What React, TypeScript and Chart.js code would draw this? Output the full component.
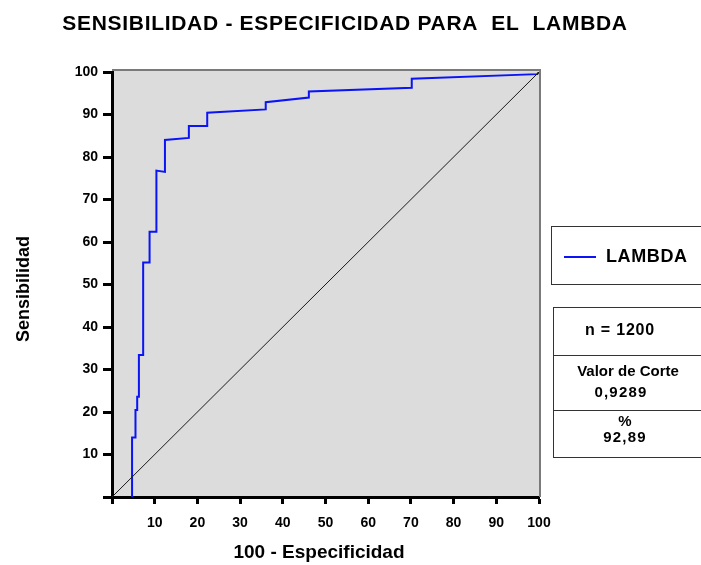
import { useEffect, useRef } from 'react';
import { Chart, registerables } from 'chart.js';

Chart.register(...registerables);

// ROC curve (100 - specificity, sensitivity)
const rocFpr = [4.7, 4.7, 5.5, 5.5, 5.9, 5.9, 6.3, 6.3, 7.3, 7.3, 8.8, 8.8, 10.4, 10.4, 12.4, 12.4, 18, 18, 22.3, 22.3, 36, 36, 46.1, 46.1, 70.2, 70.2, 99.6, 100];
const rocSens = [0, 14, 14, 20.5, 20.5, 23.6, 23.6, 33.4, 33.4, 55.2, 55.2, 62.4, 62.4, 76.8, 76.5, 84, 84.5, 87.3, 87.3, 90.4, 91.2, 92.9, 94, 95.4, 96.3, 98.4, 99.5, 100];
// reference diagonal
const diagX = [0, 100];
const diagY = [0, 100];

const tickStep = 10;
const axisMin = 0;
const axisMax = 100;

const chartTitle = 'SENSIBILIDAD - ESPECIFICIDAD PARA  EL  LAMBDA';
const xTitle = '100 - Especificidad';
const yTitle = 'Sensibilidad';
const seriesName = 'LAMBDA';
const statsN = 'n = 1200';
const statsCutLabel = 'Valor de Corte';
const statsCutValue = '0,9289';
const statsPctLabel = '%';
const statsPctValue = '92,89';

const FONT = 'Arial, "Liberation Sans", sans-serif';
const BLUE = '#0a14f5';

export default function App() {
  const ref = useRef<HTMLCanvasElement | null>(null);

  useEffect(() => {
    const canvas = ref.current;
    if (!canvas) return;

    const decor = {
      id: 'decor',
      beforeDraw(chart: any) {
        const { ctx, chartArea: a } = chart;
        ctx.save();
        ctx.fillStyle = '#ffffff';
        ctx.fillRect(0, 0, chart.width, chart.height);
        ctx.fillStyle = '#dcdcdc';
        ctx.fillRect(a.left, a.top - 2, a.right - a.left, a.bottom - a.top + 2);
        ctx.restore();
      },
      beforeDatasetsDraw(chart: any) {
        const { ctx, chartArea: a } = chart;
        ctx.save();
        ctx.strokeStyle = '#7a7a7a';
        ctx.lineWidth = 2;
        ctx.beginPath();
        ctx.moveTo(a.left, a.top - 2);
        ctx.lineTo(a.right + 1, a.top - 2);
        ctx.lineTo(a.right + 1, a.bottom);
        ctx.stroke();
        ctx.restore();
      },
      afterDraw(chart: any) {
        const { ctx } = chart;
        ctx.save();
        ctx.fillStyle = '#000';
        ctx.textAlign = 'center';
        ctx.textBaseline = 'middle';

        // title
        ctx.font = `bold 21px ${FONT}`;
        (ctx as any).letterSpacing = '0.7px';
        ctx.fillText(chartTitle, 345, 24);
        (ctx as any).letterSpacing = '0px';

        // x title
        ctx.font = `bold 19px ${FONT}`;
        ctx.fillText(xTitle, 319, 553);

        // y title
        ctx.save();
        ctx.translate(24, 289);
        ctx.rotate(-Math.PI / 2);
        ctx.font = `bold 18px ${FONT}`;
        ctx.fillText(yTitle, 0, 0);
        ctx.restore();

        // legend box
        ctx.strokeStyle = '#333';
        ctx.lineWidth = 1;
        ctx.strokeRect(551.5, 226.5, 160, 58);
        ctx.strokeStyle = BLUE;
        ctx.lineWidth = 2;
        ctx.beginPath();
        ctx.moveTo(564, 257);
        ctx.lineTo(596, 257);
        ctx.stroke();
        ctx.textAlign = 'left';
        ctx.font = `bold 18px ${FONT}`;
        (ctx as any).letterSpacing = '0.6px';
        ctx.fillText(seriesName, 606, 257);
        (ctx as any).letterSpacing = '0px';

        // stats box
        ctx.strokeStyle = '#333';
        ctx.lineWidth = 1;
        ctx.strokeRect(553.5, 307.5, 160, 150);
        ctx.beginPath();
        ctx.moveTo(553.5, 355.5);
        ctx.lineTo(701, 355.5);
        ctx.moveTo(553.5, 410.5);
        ctx.lineTo(701, 410.5);
        ctx.stroke();

        ctx.textAlign = 'center';
        ctx.font = `bold 16px ${FONT}`;
        (ctx as any).letterSpacing = '0.8px';
        ctx.fillText(statsN, 620, 331);
        ctx.font = `bold 15px ${FONT}`;
        (ctx as any).letterSpacing = '0px';
        ctx.fillText(statsCutLabel, 628, 372);
        (ctx as any).letterSpacing = '1.2px';
        ctx.fillText(statsCutValue, 621, 393);
        (ctx as any).letterSpacing = '0px';
        ctx.fillText(statsPctLabel, 625, 422);
        (ctx as any).letterSpacing = '1.2px';
        ctx.fillText(statsPctValue, 625, 438);
        (ctx as any).letterSpacing = '0px';
        ctx.restore();
      },
    };

    const chart = new Chart(canvas, {
      type: 'scatter',
      data: {
        datasets: [
          {
            label: 'Diagonal',
            data: diagX.map((x, i) => ({ x, y: diagY[i] })),
            showLine: true,
            borderColor: '#1a1a1a',
            borderWidth: 1,
            pointRadius: 0,
            fill: false,
          },
          {
            label: seriesName,
            data: rocFpr.map((x, i) => ({ x, y: rocSens[i] })),
            showLine: true,
            borderColor: BLUE,
            borderWidth: 2,
            pointRadius: 0,
            fill: false,
            tension: 0,
          },
        ],
      },
      options: {
        animation: false,
        responsive: false,
        devicePixelRatio: 1,
        layout: { padding: { top: 72, right: 162, bottom: 0, left: 0 } },
        plugins: {
          legend: { display: false },
          title: { display: false },
          tooltip: { enabled: false },
        },
        scales: {
          x: {
            type: 'linear',
            min: axisMin,
            max: axisMax,
            afterFit: (s: any) => {
              s.height = 68;
            },
            ticks: {
              stepSize: tickStep,
              autoSkip: false,
              maxRotation: 0,
              color: '#000',
              padding: 11,
              font: { family: FONT, size: 14, weight: 'bold' },
              callback: (v: any) => (v === 0 ? '' : String(v)),
            },
            grid: {
              drawOnChartArea: false,
              drawTicks: true,
              tickLength: 7,
              tickWidth: 3,
              tickColor: '#000',
            },
            border: { display: true, color: '#000', width: 3 },
          },
          y: {
            type: 'linear',
            min: axisMin,
            max: axisMax,
            afterFit: (s: any) => {
              s.width = 112;
            },
            ticks: {
              stepSize: tickStep,
              autoSkip: false,
              color: '#000',
              padding: 5,
              font: { family: FONT, size: 14, weight: 'bold' },
              callback: (v: any) => (v === 0 ? '' : String(v)),
            },
            grid: {
              drawOnChartArea: false,
              drawTicks: true,
              tickLength: 9,
              tickWidth: 3,
              tickColor: '#000',
            },
            border: { display: true, color: '#000', width: 3 },
          },
        },
      },
      plugins: [decor],
    });

    return () => {
      chart.destroy();
    };
  }, []);

  return (
    <div style={{ position: 'absolute', left: 0, top: 0, width: 701, height: 565, background: '#fff' }}>
      <canvas ref={ref} width={701} height={565} style={{ display: 'block', width: 701, height: 565 }} />
    </div>
  );
}
